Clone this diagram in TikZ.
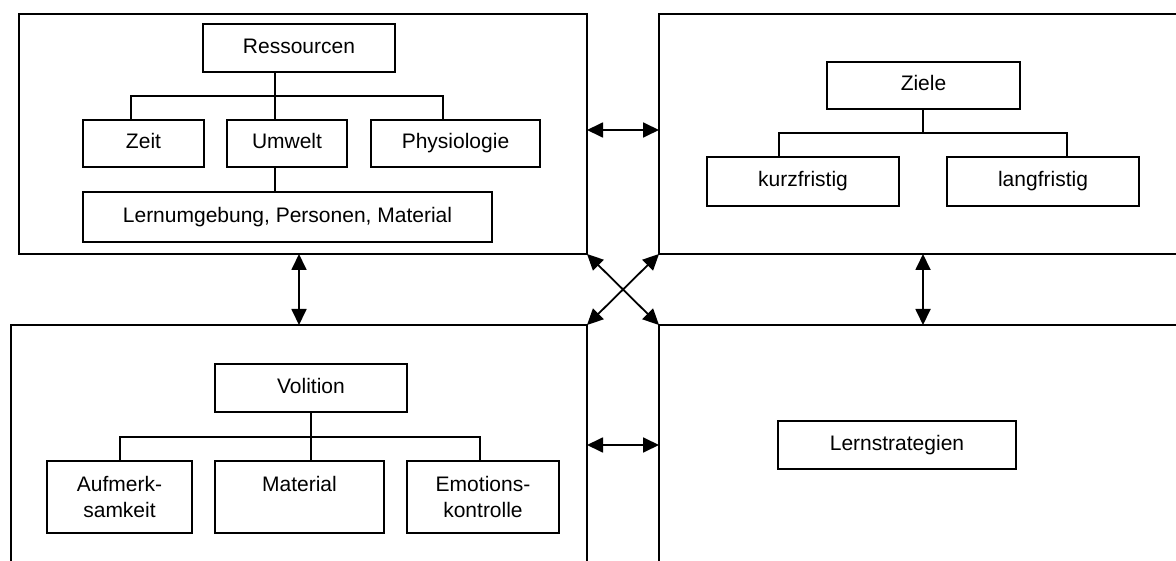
\documentclass[tikz,border=0pt]{standalone}
\usepackage{fontspec}
\setmainfont{Liberation Sans}
\usetikzlibrary{arrows.meta}
\begin{document}
\begin{tikzpicture}[x=1pt,y=-1pt,
  line width=1.6pt,
  tbox/.style={draw, inner sep=0pt, align=center,
    font=\fontsize{21}{26}\selectfont},
  box/.style={tbox, text height=15pt, text depth=4.5pt},
  link/.style={line width=1.6pt},
  both/.style={line width=1.8pt,
    {Triangle[length=16pt,width=15pt]}-{Triangle[length=16pt,width=15pt]}}]
\useasboundingbox (0,0) rectangle (1176,561);

% four panels
\draw (19,14) rectangle (587,254);
\draw (1176,14) -- (659,14) -- (659,254) -- (1176,254);
\draw (11,561) -- (11,325) -- (587,325) -- (587,561);
\draw (1176,325) -- (659,325) -- (659,561);

% Ressourcen
\node[box, minimum width=192pt, minimum height=48pt] (res) at (299,48) {Ressourcen};
\node[box, minimum width=121pt, minimum height=47pt] (zeit) at (143.5,143.5) {Zeit};
\node[box, minimum width=120pt, minimum height=47pt] (umw) at (287,143.5) {Umwelt};
\node[box, minimum width=169pt, minimum height=47pt] (phys) at (455.5,143.5) {Physiologie};
\node[box, minimum width=409pt, minimum height=50pt] (lern) at (287.5,217) {Lernumgebung, Personen, Material};
\coordinate (rs) at (275,96);
\coordinate (zd) at (131,96);
\coordinate (pd) at (443,96);
\draw[link] (res.south -| rs) -- (rs);
\draw[link] (zeit.north -| zd) -- (zd) -- (pd) -- (phys.north -| pd);
\draw[link] (rs) -- (umw.north -| rs);
\draw[link] (umw.south -| rs) -- (lern.north -| rs);

% Ziele
\node[box, minimum width=193pt, minimum height=47pt] (ziele) at (923.5,85.5) {Ziele};
\node[box, minimum width=192pt, minimum height=49pt] (kurz) at (803,181.5) {kurzfristig};
\node[box, minimum width=192pt, minimum height=49pt] (lang) at (1043,181.5) {langfristig};
\coordinate (zs) at (923,133);
\coordinate (kd) at (779,133);
\coordinate (ld) at (1067,133);
\draw[link] (ziele.south -| zs) -- (zs);
\draw[link] (kurz.north -| kd) -- (kd) -- (ld) -- (lang.north -| ld);

% Volition
\node[box, minimum width=192pt, minimum height=48pt] (vol) at (311,388) {Volition};
\node[tbox, minimum width=145pt, minimum height=72pt] (auf) at (119.5,497) {Aufmerk-\\samkeit};
\node[tbox, minimum width=169pt, minimum height=72pt] (mat) at (299.5,497) {Material\\\mbox{}};
\node[tbox, minimum width=152pt, minimum height=72pt] (emo) at (483,497) {Emotions-\\kontrolle};
\coordinate (vs) at (311,437);
\coordinate (ad) at (120,437);
\coordinate (ed) at (480,437);
\draw[link] (vol.south -| vs) -- (vs);
\draw[link] (auf.north -| ad) -- (ad) -- (ed) -- (emo.north -| ed);
\draw[link] (vs) -- (mat.north -| vs);

% Lernstrategien
\node[box, minimum width=238pt, minimum height=48pt] (ls) at (897,445) {Lernstrategien};

% links between the panels
\coordinate (tlR) at (587,130);
\coordinate (trL) at (659,130);
\coordinate (blR) at (587,445);
\coordinate (brL) at (659,445);
\coordinate (tlB) at (299,254);
\coordinate (blT) at (299,325);
\coordinate (trB) at (923,254);
\coordinate (brT) at (923,325);
\coordinate (tlC) at (587,254);
\coordinate (trC) at (659,254);
\coordinate (blC) at (587,325);
\coordinate (brC) at (659,325);
\draw[both] (tlR) -- (trL);
\draw[both] (blR) -- (brL);
\draw[both] (tlB) -- (blT);
\draw[both] (trB) -- (brT);
\draw[both] (tlC) -- (brC);
\draw[both] (trC) -- (blC);
\end{tikzpicture}
\end{document}
